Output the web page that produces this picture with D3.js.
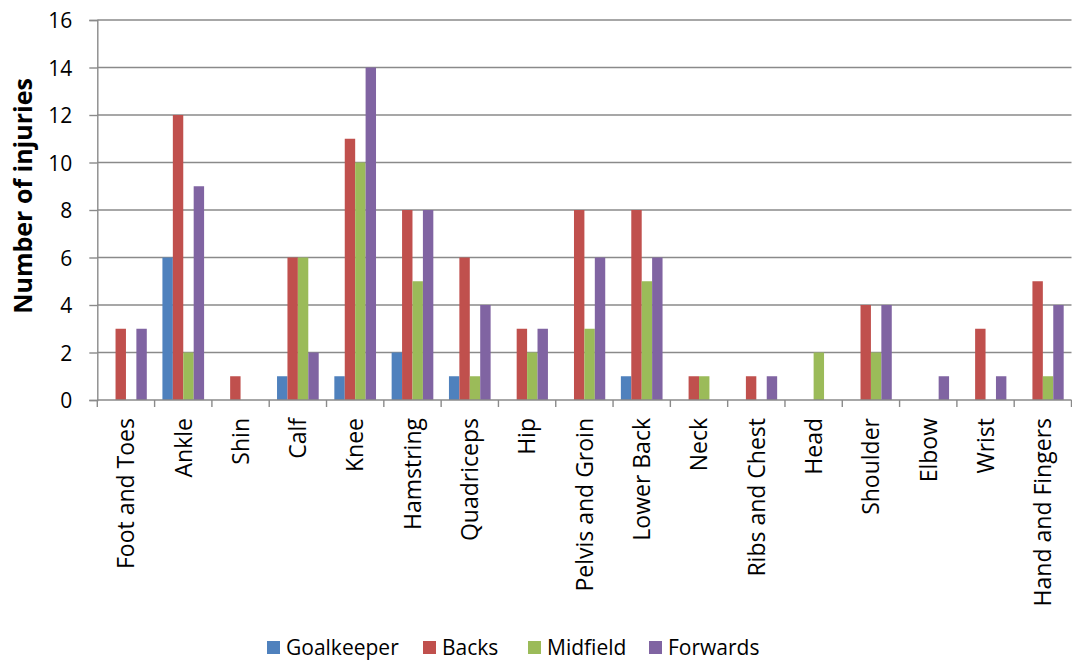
<!DOCTYPE html>
<html><head><meta charset="utf-8">
<script src="https://cdn.jsdelivr.net/npm/d3@7"></script>
<style>body{margin:0;background:#fff}svg{display:block}text{font-family:"Open Sans",sans-serif;fill:#000}</style>
</head><body><svg id="c" width="1072" height="664"></svg>
<script>
const categories = ["Foot and Toes","Ankle","Shin","Calf","Knee","Hamstring","Quadriceps","Hip","Pelvis and Groin","Lower Back","Neck","Ribs and Chest","Head","Shoulder","Elbow","Wrist","Hand and Fingers"];
const seriesNames = ["Goalkeeper","Backs","Midfield","Forwards"];
const goalkeeper = [0,6,0,1,1,2,1,0,0,1,0,0,0,0,0,0,0];
const backs      = [3,12,1,6,11,8,6,3,8,8,1,1,0,4,0,3,5];
const midfield   = [0,2,0,6,10,5,1,2,3,5,1,0,2,2,0,0,1];
const forwards   = [3,9,0,2,14,8,4,3,6,6,0,1,0,4,1,1,4];
const yTicks = [0,2,4,6,8,10,12,14,16];
const colors = ["#4F81BD","#C0504D","#9BBB59","#8064A2"];
const seriesValues = [goalkeeper, backs, midfield, forwards];

const svg = d3.select("#c");
const pLeft = 97.3, pRight = 1071.5, pTop = 20, pBottom = 400;
const x = d3.scaleBand().domain(categories).range([pLeft, pRight]).paddingInner(0).paddingOuter(0);
const y = d3.scaleLinear().domain([0,16]).range([pBottom, pTop]);
const bw = x.bandwidth();
const barW = bw / 5.5;
const xs = d3.scaleBand().domain(seriesNames).range([barW*0.75, barW*4.75]).padding(0);

// gridlines
svg.append("g").selectAll("line").data(yTicks.filter(d=>d>0)).join("line")
  .attr("x1", pLeft).attr("x2", pRight).attr("y1", d=>y(d)).attr("y2", d=>y(d))
  .attr("stroke", "#8a8a8a").attr("stroke-width", 1.4);

// bars
const g = svg.append("g");
seriesNames.forEach((s, si) => {
  g.append("g").selectAll("rect").data(categories.map((c,i)=>({c, v: seriesValues[si][i]})).filter(d=>d.v>0))
    .join("rect")
    .attr("x", d => x(d.c) + xs(s))
    .attr("width", xs.bandwidth())
    .attr("y", d => y(d.v))
    .attr("height", d => y(0) - y(d.v))
    .attr("fill", colors[si]);
});

// y axis
const yAxis = svg.append("g").attr("transform", `translate(${pLeft},0)`)
  .call(d3.axisLeft(y).tickValues(yTicks).tickSize(8).tickPadding(17));
yAxis.select(".domain").attr("stroke", "#8a8a8a").attr("stroke-width", 1.4);
yAxis.selectAll(".tick line").attr("stroke", "#8a8a8a").attr("stroke-width", 1.4);
yAxis.selectAll(".tick text").style("font-size", "21px").style("font-family", "'Open Sans',sans-serif").attr("dy", "0.36em");

// x axis
const xAxisG = svg.append("g").attr("transform", `translate(0,${pBottom})`);
xAxisG.append("line").attr("x1", pLeft).attr("x2", pRight).attr("y1", 0).attr("y2", 0)
  .attr("stroke", "#8a8a8a").attr("stroke-width", 1.4);
const boundaries = categories.map(c => x(c)).concat([pRight]);
xAxisG.selectAll("line.tk").data(boundaries).join("line").attr("class","tk")
  .attr("x1", d=>d).attr("x2", d=>d).attr("y1", 0).attr("y2", 7)
  .attr("stroke", "#8a8a8a").attr("stroke-width", 1.4);
xAxisG.selectAll("text").data(categories).join("text")
  .attr("transform", d => `translate(${x(d)+bw/2},18) rotate(-90)`)
  .attr("text-anchor", "end").attr("dy", "0.36em")
  .style("font-size", "23px").text(d => d);

// y title
svg.append("text").attr("transform", "translate(23,196) rotate(-90)")
  .attr("text-anchor", "middle").attr("dy", "0.36em")
  .style("font-size", "25px").style("font-weight", "bold").text("Number of injuries");

// legend
const legendX = [267, 423, 528, 649];
const lg = svg.append("g");
seriesNames.forEach((s, i) => {
  lg.append("rect").attr("x", legendX[i]).attr("y", 641).attr("width", 13).attr("height", 13).attr("fill", colors[i]);
  lg.append("text").attr("x", legendX[i] + 19).attr("y", 647).attr("dy", "0.36em")
    .style("font-size", "21px").text(s);
});
</script></body></html>
